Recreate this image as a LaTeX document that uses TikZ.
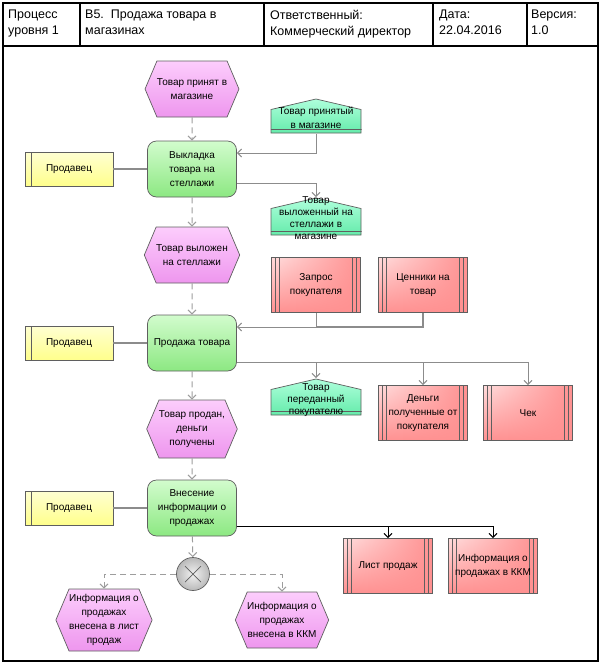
\documentclass[tikz,border=0pt]{standalone}
\usepackage{fontspec}
\setmainfont{Liberation Sans}
\usetikzlibrary{shapes.symbols,arrows.meta,shadings}

\definecolor{evtop}{RGB}{252,205,252}
\definecolor{evbot}{RGB}{238,150,238}
\definecolor{fntop}{RGB}{210,252,205}
\definecolor{fnbot}{RGB}{140,232,130}
\definecolor{dttop}{RGB}{175,255,220}
\definecolor{dtbot}{RGB}{100,235,170}
\definecolor{doclt}{RGB}{255,220,220}
\definecolor{docdk}{RGB}{255,145,145}
\definecolor{roletop}{RGB}{255,255,210}
\definecolor{rolebot}{RGB}{255,255,140}
\definecolor{edge}{RGB}{95,95,95}
\definecolor{wire}{RGB}{140,140,140}

% text that may run out of its box
\newcommand{\ml}[1]{\smash{\raisebox{-5.5pt}{\begin{tabular}{@{}c@{}}#1\end{tabular}}}}

\tikzset{
  base/.style={draw=edge, line width=0.7pt, inner sep=0pt, align=center,
    font=\fontsize{10}{14}\selectfont},
  evt/.style={base, shape=signal, signal to=east and west, signal pointer angle=134,
    minimum width=89pt, minimum height=56pt, top color=evtop, bottom color=evbot},
  func/.style={base, rectangle, rounded corners=9pt, minimum width=89pt,
    minimum height=56pt, top color=fntop, bottom color=fnbot},
  datum/.style={base, draw=none, rectangle, minimum width=91pt, minimum height=#1,
    font=\fontsize{10}{12}\selectfont,
    path picture={
      \path[draw=edge, line width=0.7pt, top color=dttop, bottom color=dtbot]
        ([shift={(0.5pt,0.5pt)}]path picture bounding box.south west) --
        ([shift={(-0.5pt,0.5pt)}]path picture bounding box.south east) --
        ([shift={(-0.5pt,-11pt)}]path picture bounding box.north east) --
        ([yshift=-0.5pt]path picture bounding box.north) --
        ([shift={(0.5pt,-11pt)}]path picture bounding box.north west) -- cycle;
      \draw[edge, line width=0.7pt]
        ([yshift=4pt]path picture bounding box.south west) --
        ([yshift=4pt]path picture bounding box.south east);}},
  datum/.default=36pt,
  doc/.style={base, rectangle, minimum width=89pt, minimum height=55pt,
    upper left=doclt, upper right=docdk, lower left=docdk, lower right=docdk,
    path picture={\foreach \dx in {4,8}{
      \draw[edge, line width=0.6pt] ([xshift=\dx pt]path picture bounding box.north west) --
        ([xshift=\dx pt]path picture bounding box.south west);
      \draw[edge, line width=0.6pt] ([xshift=-\dx pt]path picture bounding box.north east) --
        ([xshift=-\dx pt]path picture bounding box.south east);}}},
  role/.style={base, rectangle, minimum width=88pt, minimum height=34pt,
    top color=roletop, bottom color=rolebot,
    path picture={\draw[edge, line width=0.6pt]
      ([xshift=6pt]path picture bounding box.north west) --
      ([xshift=6pt]path picture bounding box.south west);}},
  xorgate/.style={circle, draw=edge, line width=0.7pt, minimum size=33pt,
    inner color=gray!10, outer color=gray!55,
    path picture={\draw[edge, line width=0.7pt]
      ([shift={(-8pt,-8pt)}]path picture bounding box.center) -- ++(16pt,16pt)
      ([shift={(-8pt,8pt)}]path picture bounding box.center) -- ++(16pt,-16pt);}},
  ctrl/.style={draw=wire!85, line width=1pt, dash pattern=on 6pt off 4pt,
    -{Straight Barb[length=4pt,width=8pt]}},
  flow/.style={draw=wire, line width=1pt, -{Straight Barb[length=4pt,width=8pt]}},
  link/.style={draw=wire, line width=1.2pt},
  hdr/.style={anchor=north west, align=left, inner sep=0pt,
    font=\fontsize{12.5}{16}\selectfont}
}

\begin{document}
\begin{tikzpicture}[x=1pt, y=-1pt]
  \useasboundingbox (0,0) rectangle (601,664);

  % frame and header
  \draw[line width=1.2pt] (3,3) rectangle (598,661);
  \draw[line width=1.2pt] (3,46) -- (598,46);
  \draw[line width=1.2pt] (80,3) -- (80,46);
  \draw[line width=1.2pt] (264,3) -- (264,46);
  \draw[line width=1.2pt] (433,3) -- (433,46);
  \draw[line width=1.2pt] (527,3) -- (527,46);
  \node[hdr] (lvl) at (8,10) {Процесс\\уровня 1};
  \node[hdr] (ttl) at (85,10) {B5.\ \ Продажа товара в\\магазинах};
  \node[hdr] (own) at (270,10) {Ответственный:\\Коммерческий директор};
  \node[hdr] (dat) at (439,10) {Дата:\\22.04.2016};
  \node[hdr] (ver) at (531,10) {Версия:\\1.0};

  % first step
  \node[evt] (ev1) at (192,89) {Товар принят в\\магазине};
  \node[datum=35pt, font=\fontsize{10}{14}\selectfont] (dt1) at (316,116) {\ml{Товар принятый\\в магазине}};
  \node[func] (fn1) at (192,169) {Выкладка\\товара на\\стеллажи};
  \node[role] (r1) at (69,169) {Продавец};
  \node[datum=38pt] (dt2) at (316,216.5) {\ml{Товар\\выложенный на\\стеллажи в\\магазине}};
  \node[evt] (ev2) at (192,255) {Товар выложен\\на стеллажи};

  % second step
  \node[doc] (d1) at (316,285) {Запрос\\покупателя};
  \node[doc] (d2) at (423,285) {Ценники на\\товар};
  \node[func] (fn2) at (192,343) {Продажа товара};
  \node[role] (r2) at (69,343) {Продавец};
  \node[datum=37pt] (dt3) at (316,397) {\ml{Товар\\переданный\\покупателю}};
  \node[doc] (d3) at (423,413) {Деньги\\полученные от\\покупателя};
  \node[doc] (d4) at (528,413) {Чек};
  \node[evt, minimum height=58pt] (ev3) at (192,429) {Товар продан,\\деньги\\получены};

  % third step
  \node[func] (fn3) at (192,508) {Внесение\\информации о\\продажах};
  \node[role] (r3) at (69,508) {Продавец};
  \node[doc] (d5) at (388,566) {Лист продаж};
  \node[doc] (d6) at (493,566) {Информация о\\продажах в ККМ};
  \node[xorgate] (xr) at (193,574) {};
  \node[evt, minimum height=62pt] (ev4) at (104,620) {Информация о\\продажах\\внесена в лист\\продаж};
  \node[evt] (ev5) at (282,620) {Информация о\\продажах\\внесена в ККМ};

  \draw[ctrl] (ev1) -- (fn1);
  \draw[ctrl] (fn1) -- (ev2);
  \draw[ctrl] (ev2) -- (fn2);
  \draw[ctrl] (fn2) -- (ev3);
  \draw[ctrl] (ev3) -- (fn3);
  \draw[ctrl] (fn3) -- (xr);
  \draw[ctrl] (xr.west) -| (ev4.north);
  \draw[ctrl] (xr.east) -| (ev5.north);

  \draw[link] (r1) -- (fn1);
  \draw[link] (r2) -- (fn2);
  \draw[link] (r3) -- (fn3);

  \draw[flow] (dt1.south) |- ([yshift=16pt]fn1.east);
  \draw[flow] ([yshift=-14pt]fn1.east) -| (dt2.north);

  \coordinate (in2) at (316,327);
  \draw[flow] (d1.south) -- (in2) -- (in2 -| fn2.east);
  \draw[link] (d2.south) |- (in2);
  \draw[flow] ([yshift=-19pt]fn2.east) -| (dt3.north);
  \draw[flow] ([yshift=-19pt]fn2.east) -| (d3.north);
  \draw[flow] ([yshift=-19pt]fn2.east) -| (d4.north);

  \draw[flow, draw=black] ([yshift=-18pt]fn3.east) -| (d5.north);
  \draw[flow, draw=black] ([yshift=-18pt]fn3.east) -| (d6.north);
\end{tikzpicture}
\end{document}
